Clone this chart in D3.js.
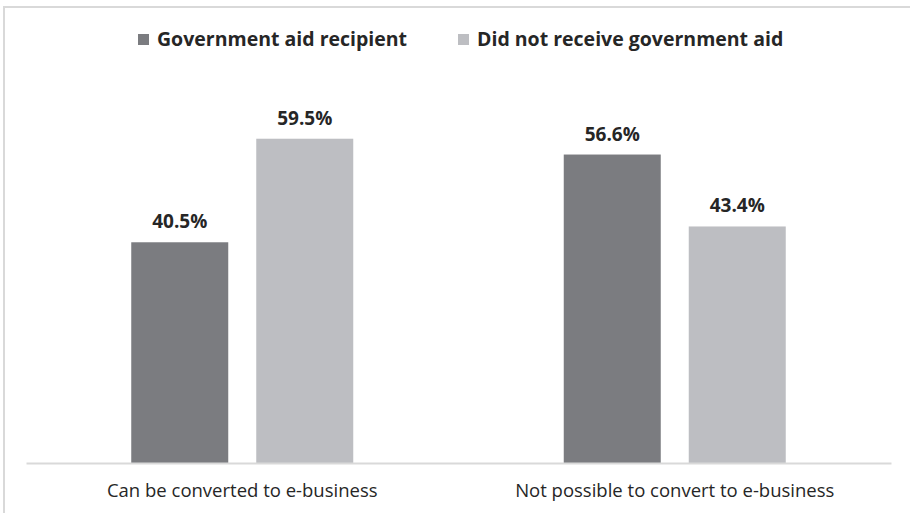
<!DOCTYPE html>
<html>
<head>
<meta charset="utf-8">
<script src="https://cdn.jsdelivr.net/npm/d3@7"></script>
<style>
  body { margin: 0; background: #fff; }
  text { font-family: "Open Sans", "Noto Sans", sans-serif; fill: #262626; }
</style>
</head>
<body>
<div id="chart"></div>
<script>
// data
const categories = ["Can be converted to e-business", "Not possible to convert to e-business"]
const seriesNames = ["Government aid recipient", "Did not receive government aid"]
const aidValues = [40.5, 56.6]
const noAidValues = [59.5, 43.4]
const colors = ["#7b7c80", "#bdbec2"]

const width = 910, height = 513
const margin = {top: 82, right: 20, bottom: 50, left: 26}

const svg = d3.select("#chart").append("svg")
	.attr("width", width)
	.attr("height", height)

// frame lines (top and left edge)
svg.append("path")
	.attr("d", `M4,${height} V7 H${width}`)
	.attr("fill", "none")
	.attr("stroke", "#d9d9d9")
	.attr("stroke-width", 2)

const plotW = 865, baseY = 463

const x0 = d3.scaleBand()
	.domain(categories)
	.range([margin.left, margin.left + plotW])

const x1 = d3.scaleBand()
	.domain(seriesNames)
	.range([0, x0.bandwidth()])
	.paddingInner(0.224)
	.paddingOuter(0.842)

const y = d3.scaleLinear()
	.domain([0, 70])
	.range([baseY, baseY - 70 * 5.45])

const rows = categories.map((c, i) => ({
	cat: c,
	vals: [
		{name: seriesNames[0], v: aidValues[i], color: colors[0]},
		{name: seriesNames[1], v: noAidValues[i], color: colors[1]}
	]
}))

const grp = svg.selectAll(".cat")
	.data(rows)
	.enter()
	.append("g")
		.attr("class", "cat")
		.attr("transform", d => "translate(" + x0(d.cat) + ",0)")

grp.selectAll("rect")
	.data(d => d.vals)
	.enter()
	.append("rect")
		.attr("x", d => x1(d.name))
		.attr("width", x1.bandwidth())
		.attr("y", d => y(d.v))
		.attr("height", d => baseY - y(d.v))
		.attr("fill", d => d.color)

grp.selectAll(".val")
	.data(d => d.vals)
	.enter()
	.append("text")
		.attr("class", "val")
		.attr("text-anchor", "middle")
		.attr("x", d => x1(d.name) + x1.bandwidth() / 2)
		.attr("y", d => y(d.v) - 14)
		.text(d => d.v.toFixed(1) + "%")
		.style("font-size", "19px")
		.style("font-weight", "bold")

// baseline axis
const xAxis = svg.append("g")
	.attr("transform", "translate(0," + baseY + ")")
	.call(d3.axisBottom(x0).tickSize(0).tickPadding(21))
xAxis.select(".domain").attr("stroke", "#d9d9d9").attr("stroke-width", 2)
xAxis.selectAll("text")
	.style("font-size", "18.5px")
	.style("font-family", "'Open Sans', sans-serif")
	.attr("fill", "#262626")

// legend
const legendX = [138, 458]
const legend = svg.selectAll(".leg")
	.data(seriesNames)
	.enter()
	.append("g")
		.attr("class", "leg")
		.attr("transform", (d, i) => "translate(" + legendX[i] + ",34)")
legend.append("rect")
	.attr("width", 11)
	.attr("height", 11)
	.attr("fill", (d, i) => colors[i])
legend.append("text")
	.attr("x", 19)
	.attr("y", 12)
	.text(d => d)
	.style("font-size", "19.5px")
	.style("font-weight", "bold")
</script>
</body>
</html>
